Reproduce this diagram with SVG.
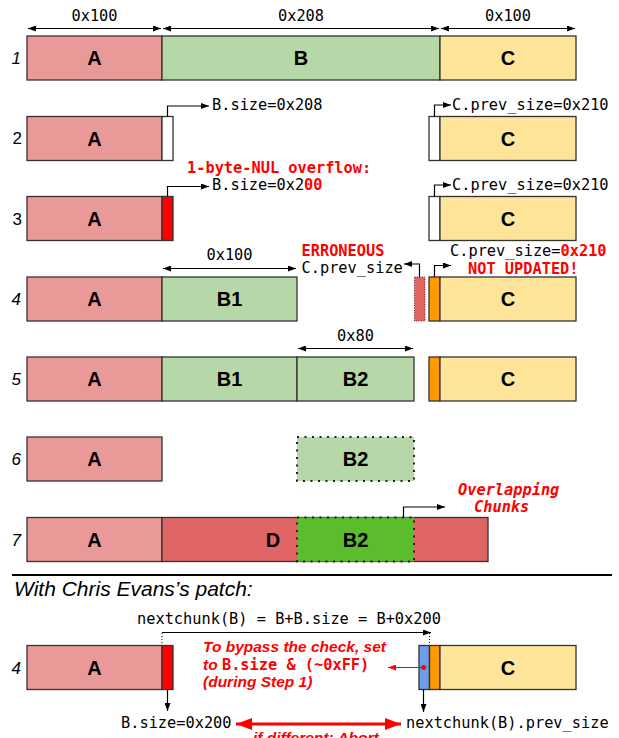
<svg xmlns="http://www.w3.org/2000/svg" width="619" height="738" viewBox="0 0 619 738">
  <defs>
    <style>
      .bx { stroke: #333; stroke-width: 1.3; }
      .a { fill: #ea9999; }
      .b { fill: #b6d7a8; }
      .c { fill: #ffe599; }
      .d { fill: #e06666; }
      .w { fill: #ffffff; }
      .r { fill: #ff0000; }
      .o { fill: #ff9900; }
      .bl { fill: #6d9eeb; }
      .lbl { font-family: "Liberation Sans", Arial, sans-serif; font-weight: bold; font-size: 20px; text-anchor: middle; fill: #000; }
      .num { font-family: "Liberation Sans", Arial, sans-serif; font-size: 17px; text-anchor: end; fill: #000; }
      .it { font-style: italic; }
      .mono { font-family: "DejaVu Sans Mono", monospace; font-size: 15.3px; fill: #000; }
      .monob { font-family: "DejaVu Sans Mono", monospace; font-size: 15.3px; font-weight: bold; fill: #ff0000; }
      .redi { font-family: "Liberation Sans", Arial, sans-serif; font-size: 15.5px; font-weight: bold; font-style: italic; fill: #ff0000; }
      .ln { fill: none; stroke: #000; stroke-width: 1.2; }
    </style>
    <marker id="ah" markerUnits="userSpaceOnUse" markerWidth="8" markerHeight="6" refX="8" refY="3" orient="auto-start-reverse">
      <path d="M0,0 L8,3 L0,6 z" fill="#000"/>
    </marker>
    <marker id="ahr" markerUnits="userSpaceOnUse" markerWidth="8" markerHeight="6" refX="8" refY="3" orient="auto-start-reverse">
      <path d="M0,0 L8,3 L0,6 z" fill="#ff0000"/>
    </marker>
    <marker id="ahbig" markerUnits="userSpaceOnUse" markerWidth="16" markerHeight="12" refX="16" refY="6" orient="auto-start-reverse">
      <path d="M0,0 L16,6 L0,12 z" fill="#ff0000"/>
    </marker>
  </defs>

  <!-- step numbers -->
  <g id="step-numbers">
    <text class="num it" x="21" y="64">1</text>
    <text class="num" x="22" y="144">2</text>
    <text class="num" x="22" y="225">3</text>
    <text class="num it" x="21" y="305">4</text>
    <text class="num it" x="21" y="385">5</text>
    <text class="num it" x="21" y="465">6</text>
    <text class="num it" x="21" y="546">7</text>
    <text class="num it" x="21" y="674">4</text>
  </g>

  <!-- step 1 -->
  <g id="row1">
    <rect class="bx a" x="27" y="36" width="135" height="44"/>
    <rect class="bx b" x="162" y="36" width="278" height="44"/>
    <rect class="bx c" x="440" y="36" width="136" height="44"/>
    <text class="lbl" x="94.5" y="65">A</text>
    <text class="lbl" x="301" y="65">B</text>
    <text class="lbl" x="508" y="65">C</text>
    <text class="mono" x="94.5" y="21" text-anchor="middle">0x100</text>
    <text class="mono" x="301" y="21" text-anchor="middle">0x208</text>
    <text class="mono" x="508" y="21" text-anchor="middle">0x100</text>
  </g>

  <!-- step 2 -->
  <g id="row2">
    <rect class="bx a" x="27" y="116.5" width="135" height="44"/>
    <rect class="bx w" x="162" y="116.5" width="11" height="44"/>
    <text class="lbl" x="94.5" y="145.5">A</text>
    <rect class="bx w" x="429" y="116.5" width="11" height="44"/>
    <rect class="bx c" x="440" y="116.5" width="136" height="44"/>
    <text class="lbl" x="508" y="145.5">C</text>
    <text class="mono" x="212" y="110">B.size=0x208</text>
    <text class="mono" x="452" y="109.5">C.prev_size=0x210</text>
  </g>

  <!-- step 3 -->
  <g id="row3">
    <rect class="bx a" x="27" y="196.5" width="135" height="44"/>
    <rect class="bx r" x="162" y="196.5" width="11" height="44"/>
    <text class="lbl" x="94.5" y="225.5">A</text>
    <rect class="bx w" x="429" y="196.5" width="11" height="44"/>
    <rect class="bx c" x="440" y="196.5" width="136" height="44"/>
    <text class="lbl" x="508" y="225.5">C</text>
    <text class="monob" x="187" y="173">1-byte-NUL overflow:</text>
    <text class="mono" x="212" y="190">B.size=0x2<tspan font-weight="bold" fill="#ff0000">00</tspan></text>
    <text class="mono" x="452" y="190">C.prev_size=0x210</text>
  </g>

  <!-- step 4 -->
  <g id="row4">
    <rect class="bx a" x="27" y="277" width="135" height="44"/>
    <rect class="bx b" x="162" y="277" width="135" height="44"/>
    <text class="lbl" x="94.5" y="306">A</text>
    <text class="lbl" x="229.5" y="306">B1</text>
    <rect x="414.5" y="277" width="10.5" height="44" fill="#e06666" stroke="#7a2020" stroke-width="1" stroke-dasharray="1 1.5"/>
    <rect class="bx o" x="429" y="277" width="11" height="44"/>
    <rect class="bx c" x="440" y="277" width="136" height="44"/>
    <text class="lbl" x="508" y="306">C</text>
    <text class="mono" x="229.5" y="260" text-anchor="middle">0x100</text>
    <text class="monob" x="301.5" y="256">ERRONEOUS</text>
    <text class="mono" x="301.5" y="273">C.prev_size</text>
    <text class="mono" x="450" y="256">C.prev_size=<tspan font-weight="bold" fill="#ff0000">0x210</tspan></text>
    <text class="monob" x="468" y="274">NOT UPDATED!</text>
  </g>

  <!-- step 5 -->
  <g id="row5">
    <rect class="bx a" x="27" y="357" width="135" height="44"/>
    <rect class="bx b" x="162" y="357" width="135" height="44"/>
    <rect class="bx b" x="297" y="357" width="117" height="44"/>
    <text class="lbl" x="94.5" y="386">A</text>
    <text class="lbl" x="229.5" y="386">B1</text>
    <text class="lbl" x="355.5" y="386">B2</text>
    <rect class="bx o" x="429" y="357" width="11" height="44"/>
    <rect class="bx c" x="440" y="357" width="136" height="44"/>
    <text class="lbl" x="508" y="386">C</text>
    <text class="mono" x="355.5" y="341" text-anchor="middle">0x80</text>
  </g>

  <!-- step 6 -->
  <g id="row6">
    <rect class="bx a" x="27" y="437" width="135" height="44"/>
    <text class="lbl" x="94.5" y="466">A</text>
    <rect x="297" y="437" width="117" height="44" fill="#b6d7a8" stroke="#222" stroke-width="2" stroke-dasharray="2 5.5"/>
    <text class="lbl" x="355.5" y="466">B2</text>
  </g>

  <!-- step 7 -->
  <g id="row7">
    <rect class="bx a" x="27" y="517.5" width="135" height="44"/>
    <rect class="bx d" x="162" y="517.5" width="326" height="44"/>
    <rect x="297" y="517.5" width="117" height="44" fill="#5cbd2c" stroke="#222" stroke-width="2" stroke-dasharray="2 5.5"/>
    <text class="lbl" x="94.5" y="546.5">A</text>
    <text class="lbl" x="273" y="546.5">D</text>
    <text class="lbl" x="355.5" y="546.5">B2</text>
    <text class="monob" x="458" y="495" font-style="italic">Overlapping</text>
    <text class="monob" x="474" y="512" font-style="italic">Chunks</text>
  </g>

  <!-- patched check -->
  <g id="patch">
    <line x1="12" y1="575" x2="612" y2="575" stroke="#000" stroke-width="2"/>
    <text x="14" y="596" font-family="Liberation Sans, Arial, sans-serif" font-size="21px" font-style="italic" fill="#000">With Chris Evans’s patch:</text>
    <rect class="bx a" x="27" y="645.5" width="135" height="44"/>
    <rect class="bx r" x="162" y="645.5" width="11" height="44"/>
    <text class="lbl" x="94.5" y="674.5">A</text>
    <rect class="bx bl" x="419" y="645.5" width="10.5" height="44"/>
    <rect class="bx o" x="429.5" y="645.5" width="10.5" height="44"/>
    <rect class="bx c" x="440" y="645.5" width="136" height="44"/>
    <text class="lbl" x="508" y="674.5">C</text>
    <text class="mono" x="137" y="624">nextchunk(B) = B+B.size = B+0x200</text>
    <text class="redi" x="203" y="652">To bypass the check, set</text>
    <text class="redi" x="203" y="670">to <tspan font-family="DejaVu Sans Mono, monospace" font-style="normal" font-size="15.3px">B.size &amp; (~0xFF)</tspan></text>
    <text class="redi" x="203" y="687">(during Step 1)</text>
    <text class="mono" x="121" y="728">B.size=0x200</text>
    <text class="mono" x="406" y="728">nextchunk(B).prev_size</text>
    <text class="redi" x="253" y="743" font-size="16px">if different:  Abort</text>
    <circle cx="423.7" cy="667.5" r="2.5" fill="#ff0000"/>
  </g>

  <!-- connectors -->
  <g id="connectors">
    <!-- size spans, step 1 -->
    <line class="ln" x1="28" y1="28.5" x2="161" y2="28.5" marker-start="url(#ah)" marker-end="url(#ah)"/>
    <line class="ln" x1="163" y1="28.5" x2="439" y2="28.5" marker-start="url(#ah)" marker-end="url(#ah)"/>
    <line class="ln" x1="441" y1="28.5" x2="575" y2="28.5" marker-start="url(#ah)" marker-end="url(#ah)"/>
    <!-- step 2 -->
    <polyline class="ln" points="167.5,116.5 167.5,106 209,106" marker-end="url(#ah)"/>
    <polyline class="ln" points="434.5,116.5 434.5,105 451,105" marker-end="url(#ah)"/>
    <!-- step 3 -->
    <polyline class="ln" points="167.5,196.5 167.5,186.5 209,186.5" marker-end="url(#ah)"/>
    <polyline class="ln" points="434.5,196.5 434.5,185 451,185" marker-end="url(#ah)"/>
    <!-- step 4 -->
    <line class="ln" x1="163" y1="268.5" x2="296" y2="268.5" marker-start="url(#ah)" marker-end="url(#ah)"/>
    <polyline class="ln" points="419.5,277 419.5,264 404,264" marker-end="url(#ah)"/>
    <polyline class="ln" points="434.5,277 434.5,265.5 451,265.5" marker-end="url(#ah)"/>
    <!-- step 5 -->
    <line class="ln" x1="298" y1="348.5" x2="413" y2="348.5" marker-start="url(#ah)" marker-end="url(#ah)"/>
    <!-- step 7 -->
    <polyline class="ln" points="403.5,517.5 403.5,507 445,507" marker-end="url(#ah)"/>
    <!-- patched check -->
    <line class="ln" x1="162" y1="632.5" x2="431" y2="632.5" marker-end="url(#ah)"/>
    <line x1="162" y1="633" x2="162" y2="645" stroke="#000" stroke-width="1" stroke-dasharray="1 2"/>
    <line x1="429.5" y1="633" x2="429.5" y2="645" stroke="#000" stroke-width="1" stroke-dasharray="1 2"/>
    <line class="ln" x1="167.5" y1="689.5" x2="167.5" y2="711" marker-end="url(#ah)"/>
    <line class="ln" x1="423.5" y1="689.5" x2="423.5" y2="712" marker-end="url(#ah)"/>
    <line x1="423" y1="667.5" x2="388" y2="667.5" stroke="#ff0000" stroke-width="1.2" marker-end="url(#ahr)"/>
    <line x1="236" y1="724" x2="401" y2="724" stroke="#ff0000" stroke-width="3" marker-start="url(#ahbig)" marker-end="url(#ahbig)"/>
  </g>
</svg>
